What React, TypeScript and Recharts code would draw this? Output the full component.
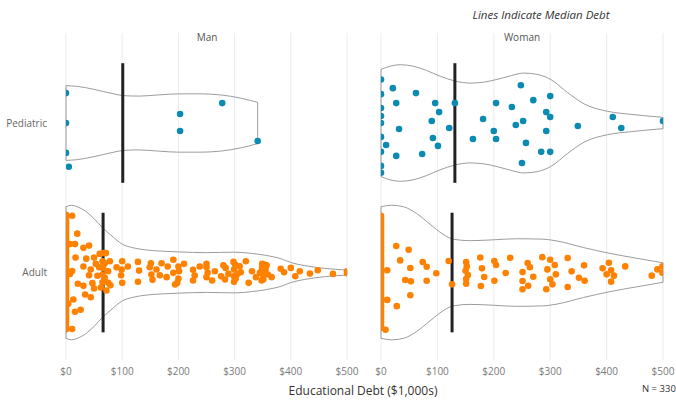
import React from "react";
import {
  ComposedChart,
  Area,
  Scatter,
  XAxis,
  YAxis,
  CartesianGrid,
  ReferenceLine,
} from "recharts";

const debtTicks = [0, 100, 200, 300, 400, 500];
const groups = ["Adult", "Pediatric"]; // rows 1 and 2

// points: [debt ($1,000s), vertical jitter]
const manPediatric = [
  [0, 0.2], [0, 0], [0, -0.2], [5, -0.293], [203, 0.06], [203, -0.053],
  [278, 0.133], [341, -0.12],
];

const womanPediatric = [
  [0, 0.291], [0, 0.193], [0, 0.1], [0, 0.047], [0, 0], [0, -0.093],
  [0, -0.193], [0, -0.287], [0, -0.333], [21, 0.233], [27, 0.133],
  [32, -0.04], [9, -0.147], [27, -0.22], [62, 0.2], [73, -0.207],
  [96, 0.133], [103, 0.073], [90, 0.013], [92, -0.1], [101, -0.153],
  [121, -0.033], [131, 0.133], [163, -0.107], [181, 0.027], [204, 0.133],
  [200, -0.053], [204, -0.107], [232, 0.107], [239, -0.013], [248, 0.253],
  [252, 0.013], [257, -0.133], [250, -0.267], [270, 0.153], [284, -0.193],
  [293, 0.073], [300, 0.18], [300, 0.04], [293, -0.053], [300, -0.193],
  [349, -0.02], [411, 0.04], [426, -0.033], [500, 0.013],
];

const manAdult = [
  [0, 0.386], [0, 0.372], [0, 0.361], [0, 0.344], [0, 0.331], [0, 0.318],
  [0, 0.302], [0, 0.287], [0, 0.271], [0, 0.258], [0, 0.24], [0, 0.226],
  [0, 0.212], [0, 0.197], [0, 0.181], [0, 0.166], [0, 0.15], [0, 0.137],
  [0, 0.12], [0, 0.106], [0, 0.089], [0, 0.074], [0, 0.06], [0, 0.043],
  [0, 0.028], [0, 0.012], [0, -0.004], [0, -0.019], [0, -0.035], [0, -0.05],
  [0, -0.066], [0, -0.081], [0, -0.097], [0, -0.112], [0, -0.128], [0, -0.143],
  [0, -0.159], [0, -0.176], [0, -0.19], [0, -0.207], [0, -0.222], [0, -0.238],
  [0, -0.253], [0, -0.27], [0, -0.285], [0, -0.301], [0, -0.318], [0, -0.333],
  [0, -0.35], [0, -0.364], [0, -0.38],
  [11, 0.38], [20, 0.26], [7, 0.19], [16, 0.19], [31, 0.165], [41, 0.18],
  [17, 0.1], [36, 0.093], [50, 0.1], [60, 0.125], [66, 0.13], [53, 0.058],
  [31, 0.04], [44, 0.02], [59, 0.035], [11, 0.01], [7, -0.01], [41, -0.018],
  [56, -0.022], [65, -0.013], [21, -0.075], [31, -0.089], [47, -0.071],
  [50, -0.107], [34, -0.147], [44, -0.165], [13, -0.18], [4, -0.209],
  [16, -0.262], [26, -0.249], [11, -0.378], [65, 0.075], [69, 0.062],
  [66, 0.031], [75, 0.009], [69, -0.035], [65, -0.065], [75, -0.069],
  [79, -0.085], [72, -0.12], [62, -0.1], [71, 0.13], [78, 0.075], [90, 0.035],
  [100, 0.075], [99, 0.02], [98, -0.018], [100, -0.069], [110, 0.04],
  [128, 0.071], [130, 0.013], [128, -0.062], [151, 0.062], [149, 0.035],
  [161, 0.02], [152, -0.013], [154, -0.049], [167, -0.018], [170, 0.062],
  [181, 0.04], [179, -0.031], [191, 0.085], [200, 0.04], [191, -0.002],
  [201, 0.009], [200, -0.04], [198, -0.069], [194, -0.08], [210, 0.058],
  [226, 0.018], [229, -0.02], [226, -0.053], [238, 0.04], [250, 0.058],
  [250, 0.035], [252, -0.002], [250, -0.031], [260, -0.053], [265, 0.009],
  [276, -0.025], [280, 0.049], [284, 0.031], [283, -0.047], [289, -0.009],
  [298, 0.071], [301, 0.053], [299, 0.02], [299, -0.025], [302, -0.04],
  [299, -0.062], [305, -0.009], [309, 0.042], [311, 0.002], [320, 0.075],
  [325, -0.069], [331, 0.009], [338, -0.031], [345, -0.002], [349, 0.058],
  [349, 0.035], [353, 0.053], [357, 0.049], [348, 0.009], [355, 0.02],
  [351, -0.018], [359, -0.013], [351, -0.047], [348, -0.053], [366, -0.031],
  [382, 0.025], [388, 0.002], [400, 0.031], [408, -0.025], [416, 0.009],
  [434, -0.007], [448, 0.015], [475, -0.009], [500, 0.009], [500, -0.005],
];

const womanAdult = [
  [0, 0.379], [0, 0.366], [0, 0.35], [0, 0.336], [0, 0.321], [0, 0.305],
  [0, 0.29], [0, 0.276], [0, 0.26], [0, 0.245], [0, 0.229], [0, 0.215],
  [0, 0.2], [0, 0.184], [0, 0.169], [0, 0.153], [0, 0.139], [0, 0.123],
  [0, 0.108], [0, 0.092], [0, 0.078], [0, 0.063], [0, 0.047], [0, 0.032],
  [0, 0.016], [0, 0.001], [0, -0.014], [0, -0.03], [0, -0.045], [0, -0.061],
  [0, -0.076], [0, -0.091], [0, -0.107], [0, -0.122], [0, -0.138], [0, -0.153],
  [0, -0.168], [0, -0.184], [0, -0.199], [0, -0.215], [0, -0.23], [0, -0.246],
  [0, -0.261], [0, -0.277], [0, -0.292], [0, -0.307], [0, -0.323], [0, -0.338],
  [0, -0.354], [0, -0.37],
  [8, -0.383], [11, 0.015], [11, -0.183], [27, 0.177], [34, 0.081],
  [28, -0.225], [49, 0.152], [52, 0.03], [43, -0.05], [53, -0.059],
  [52, -0.152], [74, 0.07], [81, 0.039], [81, -0.055], [98, -0.005],
  [120, 0.077], [126, -0.079], [151, 0.07], [152, 0.041], [150, 0.012],
  [154, -0.017], [151, -0.043], [151, -0.075], [176, 0.101], [179, 0.028],
  [183, -0.03], [177, -0.09], [201, 0.077], [204, 0.05], [201, -0.055],
  [221, -0.003], [229, 0.099], [251, 0.003], [260, 0.063], [264, 0.035],
  [251, -0.057], [261, -0.088], [251, -0.112], [270, -0.028], [286, 0.103],
  [300, 0.085], [308, 0.05], [295, 0.021], [310, -0.012], [300, -0.045],
  [304, -0.079], [293, -0.112], [331, 0.097], [338, 0.008], [331, -0.097],
  [351, -0.035], [360, 0.048], [361, -0.055], [393, 0.028], [404, 0.065],
  [408, 0.015], [400, -0.012], [413, -0.021], [408, -0.061], [433, 0.041],
  [480, -0.021], [490, 0.021], [499, 0.041], [499, -0.001],
];

// violin outlines: [debt, half width]
const manPediatricViolin = [
  [0, 0.25], [20, 0.245], [50, 0.225], [85, 0.195], [103, 0.183], [130, 0.18],
  [165, 0.188], [200, 0.195], [240, 0.195], [275, 0.188], [310, 0.167],
  [341, 0.138],
];
const manAdultViolin = [
  [0, 0.44], [10, 0.45], [20, 0.44], [35, 0.41], [50, 0.36], [65, 0.3],
  [80, 0.25], [100, 0.19], [120, 0.165], [145, 0.15], [170, 0.143],
  [200, 0.138], [250, 0.133], [300, 0.136], [330, 0.128], [355, 0.115],
  [385, 0.089], [400, 0.067], [425, 0.046], [460, 0.028], [500, 0.017],
];
const womanPediatricViolin = [
  [0, 0.358], [16, 0.38], [34, 0.39], [57, 0.38], [81, 0.351], [105, 0.313],
  [131, 0.281], [158, 0.267], [182, 0.273], [206, 0.292], [230, 0.316],
  [253, 0.334], [277, 0.325], [301, 0.291], [331, 0.203], [360, 0.128],
  [402, 0.078], [443, 0.058], [500, 0.038],
];
const womanAdultViolin = [
  [0, 0.44], [19, 0.45], [40, 0.44], [63, 0.395], [87, 0.323], [110, 0.256],
  [128, 0.223], [158, 0.213], [200, 0.219], [240, 0.226], [288, 0.223],
  [312, 0.211], [359, 0.167], [406, 0.128], [454, 0.095], [500, 0.065],
];

// medians: [Adult, Pediatric]
const manMedians = [66, 101];
const womanMedians = [126, 131];

const PED_COLOR = "#0b8ab2";
const ADULT_COLOR = "#ff8100";
const OUTLINE = "#9c9c9c";

const toPoints = (pts: number[][], row: number) =>
  pts.map(([x, j]) => ({ x, y: row + j }));

const toBand = (v: number[][], row: number) =>
  v.map(([x, hw]) => ({ x, band: [row - hw, row + hw] }));

const dot = (color: string) => (p: any) =>
  <circle cx={p.cx} cy={p.cy} r={3.3} fill={color} />;

function Violin({ v, row }: { v: number[][]; row: number }) {
  return null;
}

function Panel(props: {
  width: number;
  left: number;
  showY: boolean;
  ped: number[][];
  adult: number[][];
  pedViolin: number[][];
  adultViolin: number[][];
  medians: number[];
}) {
  const { width, left, showY, ped, adult, pedViolin, adultViolin, medians } = props;
  const ends = [
    [pedViolin[0], 2],
    [pedViolin[pedViolin.length - 1], 2],
    [adultViolin[0], 1],
    [adultViolin[adultViolin.length - 1], 1],
  ] as [number[], number][];
  return (
    <ComposedChart
      width={width}
      height={402}
      margin={{ top: 33, right: 13, bottom: 12, left }}
    >
      <CartesianGrid horizontal={false} stroke="#ebebeb" />
      <XAxis
        type="number"
        dataKey="x"
        domain={[0, 500]}
        ticks={debtTicks}
        interval={0}
        allowDataOverflow
        tickFormatter={(v) => `$${v}`}
        axisLine={false}
        tickLine={false}
        tickSize={0}
        tickMargin={8}
        height={30}
        tick={{ fontSize: 10, fill: "#7a7a7a" }}
      />
      <YAxis
        type="number"
        dataKey="y"
        domain={[0.415, 2.602]}
        ticks={[1, 2]}
        allowDataOverflow
        hide={!showY}
        width={66}
        tickFormatter={(v) => groups[v - 1]}
        axisLine={false}
        tickLine={false}
        tickSize={0}
        tickMargin={19}
        tick={{ fontSize: 10, fill: "#666" }}
      />
      <Area
        data={toBand(pedViolin, 2)}
        dataKey="band"
        type="monotone"
        stroke={OUTLINE}
        strokeWidth={1}
        fill="none"
        dot={false}
        activeDot={false}
        isAnimationActive={false}
      />
      <Area
        data={toBand(adultViolin, 1)}
        dataKey="band"
        type="monotone"
        stroke={OUTLINE}
        strokeWidth={1}
        fill="none"
        dot={false}
        activeDot={false}
        isAnimationActive={false}
      />
      {ends.map(([[x, hw], row], i) => (
        <ReferenceLine
          key={`end-${i}`}
          segment={[{ x, y: row - hw }, { x, y: row + hw }]}
          stroke={OUTLINE}
          strokeWidth={1}
        />
      ))}
      {medians.map((m, i) => (
        <ReferenceLine
          key={`med-${i}`}
          segment={[{ x: m, y: i + 1 - 0.4 }, { x: m, y: i + 1 + 0.4 }]}
          stroke="#222"
          strokeWidth={3}
        />
      ))}
      <Scatter
        data={toPoints(ped, 2)}
        shape={dot(PED_COLOR)}
        isAnimationActive={false}
      />
      <Scatter
        data={toPoints(adult, 1)}
        shape={dot(ADULT_COLOR)}
        isAnimationActive={false}
      />
    </ComposedChart>
  );
}

export default function App() {
  const text = (style: React.CSSProperties) => ({
    position: "absolute" as const,
    whiteSpace: "nowrap" as const,
    textAlign: "center" as const,
    ...style,
  });
  return (
    <div
      style={{
        position: "absolute",
        left: 0,
        top: 0,
        width: 676,
        height: 402,
        overflow: "hidden",
        background: "#fff",
        fontFamily: "'Segoe UI', 'Open Sans', sans-serif",
      }}
    >
      <div style={{ position: "absolute", left: 0, top: 0 }}>
        <Panel
          width={360}
          left={0}
          showY
          ped={manPediatric}
          adult={manAdult}
          pedViolin={manPediatricViolin}
          adultViolin={manAdultViolin}
          medians={manMedians}
        />
      </div>
      <div style={{ position: "absolute", left: 360, top: 0 }}>
        <Panel
          width={316}
          left={21}
          showY={false}
          ped={womanPediatric}
          adult={womanAdult}
          pedViolin={womanPediatricViolin}
          adultViolin={womanAdultViolin}
          medians={womanMedians}
        />
      </div>
      <div
        style={text({
          left: 441, width: 200, top: 7, fontSize: 11.5, lineHeight: "16px",
          fontStyle: "italic", color: "#333",
        })}
      >
        Lines Indicate Median Debt
      </div>
      <div style={text({ left: 157, width: 100, top: 30, fontSize: 10, lineHeight: "14px", color: "#555" })}>
        Man
      </div>
      <div style={text({ left: 472, width: 100, top: 30, fontSize: 10, lineHeight: "14px", color: "#555" })}>
        Woman
      </div>
      <div style={text({ left: 263, width: 200, top: 382, fontSize: 12, lineHeight: "18px", color: "#333" })}>
        Educational Debt ($1,000s)
      </div>
      <div style={{ position: "absolute", left: 642, top: 382, fontSize: 9.5, lineHeight: "14px", color: "#333", whiteSpace: "nowrap" }}>
        N = 330
      </div>
    </div>
  );
}
